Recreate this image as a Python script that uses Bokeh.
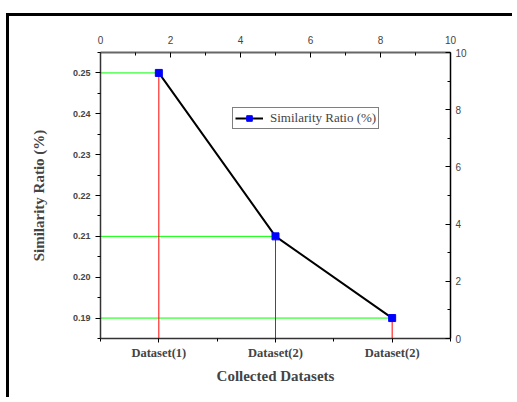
from bokeh.plotting import figure
from bokeh.models import (Range1d, LinearAxis, FixedTicker, Legend, LegendItem,
                          ColumnDataSource)
from bokeh.embed import file_html
from bokeh.resources import INLINE

# ---- data ----
categories = ["Dataset(1)", "Dataset(2)", "Dataset(2)"]
similarity = [0.25, 0.21, 0.19]
y_ticks = [0.19, 0.20, 0.21, 0.22, 0.23, 0.24, 0.25]
top_ticks = [0, 2, 4, 6, 8, 10]
right_ticks = [0, 2, 4, 6, 8, 10]

positions = list(range(1, len(categories) + 1))

p = figure(width=506, height=384, output_backend="svg", toolbar_location=None,
           x_range=Range1d(0.5, len(categories) + 0.5),
           y_range=Range1d(0.185, 0.255),
           min_border_left=91, min_border_top=36, min_border_right=65,
           min_border_bottom=62)
p.styles = {"margin-left": "6px", "margin-top": "13px",
            "border-left": "3px solid black", "border-top": "3px solid black"}
p.extra_x_ranges = {"top": Range1d(0, 10)}
p.extra_y_ranges = {"right": Range1d(0, 10)}
p.grid.visible = False
p.outline_line_color = None
p.background_fill_color = "white"
p.border_fill_color = "white"

SERIF = "Liberation Serif"
SANS = "Liberation Sans"

# bottom axis
xa = p.xaxis[0]
xa.ticker = FixedTicker(ticks=positions,
                        minor_ticks=[x - 0.5 for x in positions] + [positions[-1] + 0.5])
xa.major_label_overrides = {pos: c for pos, c in zip(positions, categories)}
xa.axis_label = "Collected Datasets"
xa.axis_label_text_font = SERIF
xa.axis_label_text_font_style = "bold"
xa.axis_label_text_font_size = "15px"
xa.axis_label_standoff = 5
xa.major_label_text_font = SERIF
xa.major_label_text_font_style = "bold"
xa.major_label_text_font_size = "12.5px"
xa.major_label_standoff = 3
xa.major_tick_out = 4
xa.major_tick_in = 0
xa.minor_tick_out = 3
xa.minor_tick_in = 0
xa.axis_line_color = "#333333"
xa.axis_line_width = 1.5

# left axis
ya = p.yaxis[0]
ya.ticker = FixedTicker(ticks=y_ticks,
                        minor_ticks=[round(t - 0.005, 3) for t in y_ticks] + [round(y_ticks[-1] + 0.005, 3)])
ya.major_label_overrides = {t: f"{t:.2f}" for t in y_ticks}
ya.axis_label = "Similarity Ratio (%)"
ya.axis_label_text_font = SERIF
ya.axis_label_text_font_style = "bold"
ya.axis_label_text_font_size = "15px"
ya.axis_label_standoff = 23
ya.major_label_text_font = SANS
ya.major_label_text_font_style = "bold"
ya.major_label_text_font_size = "9px"
ya.major_label_standoff = 5
ya.major_tick_out = 5
ya.major_tick_in = 0
ya.minor_tick_out = 3
ya.minor_tick_in = 0
ya.axis_line_color = "#333333"
ya.axis_line_width = 1.5

# top axis
ta = LinearAxis(x_range_name="top",
                ticker=FixedTicker(ticks=top_ticks,
                                   minor_ticks=[t + 1 for t in top_ticks[:-1]]))
ta.major_label_text_font = SANS
ta.major_label_text_font_size = "10px"
ta.major_label_standoff = 9
ta.major_tick_in = 5
ta.major_tick_out = 0
ta.minor_tick_in = 3
ta.minor_tick_out = 0
ta.axis_line_color = "#666666"
ta.axis_line_width = 2
p.add_layout(ta, "above")

# right axis
ra = LinearAxis(y_range_name="right",
                ticker=FixedTicker(ticks=right_ticks,
                                   minor_ticks=[t + 1 for t in right_ticks[:-1]]))
ra.major_label_text_font = SANS
ra.major_label_text_font_size = "10px"
ra.major_label_standoff = 5
ra.major_tick_in = 5
ra.major_tick_out = 0
ra.minor_tick_in = 3
ra.minor_tick_out = 0
ra.axis_line_color = "black"
ra.axis_line_width = 1.5
p.add_layout(ra, "right")

# drop lines
ymin = p.y_range.start
xmin = p.x_range.start
p.segment(x0=[xmin] * len(positions), y0=similarity, x1=positions, y1=similarity,
          line_color="#00ff00", line_width=1)
p.segment(x0=positions, y0=similarity, x1=positions, y1=[ymin] * len(positions),
          line_color="red", line_width=1)

src = ColumnDataSource(dict(x=positions, y=similarity))
lr = p.line("x", "y", source=src, line_color="black", line_width=2)
sr = p.scatter("x", "y", source=src, marker="square", size=7,
               fill_color="blue", line_color="blue")

legend = Legend(items=[LegendItem(label="Similarity Ratio (%)", renderers=[lr, sr])],
                location=(132, 209))
legend.label_text_font = SERIF
legend.label_text_font_size = "13px"
legend.label_standoff = 7
legend.glyph_width = 28
legend.glyph_height = 14
legend.label_height = 14
legend.padding = 2
legend.margin = 0
legend.spacing = 0
legend.border_line_color = "black"
legend.border_line_width = 1
legend.background_fill_alpha = 1
p.add_layout(legend, "center")

open("out.html", "w").write(file_html(p, INLINE))
